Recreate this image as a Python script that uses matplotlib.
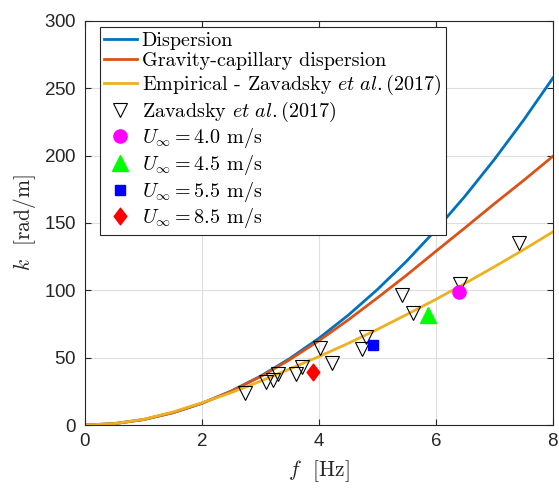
"""k(f) dispersion comparison with Zavadsky et al. (2017) data."""
import numpy as np
import matplotlib
matplotlib.use("Agg")
import matplotlib.pyplot as plt
from matplotlib.path import Path

plt.rcParams["mathtext.fontset"] = "cm"
plt.rcParams["axes.formatter.use_mathtext"] = True

# curves, f step 0.5 Hz
f_curve = [0.0, 0.5, 1.0, 1.5, 2.0, 2.5, 3.0, 3.5, 4.0, 4.5, 5.0, 5.5, 6.0, 6.5, 7.0, 7.5, 8.0]
k_disp = [0.0, 1.0, 4.0, 9.1, 16.1, 25.2, 36.2, 49.3, 64.4, 81.5, 100.6, 121.7, 144.9, 170.0, 197.2, 226.4, 257.6]
k_gc = [0.0, 1.0, 4.0, 9.1, 16.1, 25.0, 35.9, 48.5, 62.6, 78.0, 94.4, 111.3, 129.0, 146.5, 164.3, 181.6, 199.5]
k_emp = [0.0, 1.0, 4.2, 9.6, 16.5, 24.0, 32.5, 41.6, 50.8, 60.6, 71.0, 82.0, 93.3, 105.2, 117.5, 130.2, 143.4]

# Zavadsky et al. (2017) measurements
f_zav = [2.73, 3.09, 3.21, 3.30, 3.60, 3.71, 4.02, 4.23, 4.73, 4.81, 5.42, 5.61, 6.41, 7.42]
k_zav = [24.0, 32.2, 33.4, 37.6, 37.9, 42.8, 56.9, 45.8, 56.2, 65.1, 96.5, 82.9, 104.4, 135.3]

# present runs
f_u40, k_u40 = [6.40], [99.0]
f_u45, k_u45 = [5.87], [81.7]
f_u55, k_u55 = [4.93], [59.4]
f_u85, k_u85 = [3.90], [39.1]

BLUE = (0.0, 0.447, 0.741)
ORANGE = (0.85, 0.325, 0.098)
YELLOW = (0.929, 0.694, 0.125)
AX = (0.15, 0.15, 0.15)

tall_diamond = Path([(0, 1), (0.76, 0), (0, -1), (-0.76, 0), (0, 1)], closed=True)

fig = plt.figure(figsize=(5.59, 4.95), dpi=100)
ax = fig.add_axes([0.152, 0.1414, 0.837, 0.8162])

ax.plot(f_curve, k_disp, color=BLUE, lw=2, label="Dispersion")
ax.plot(f_curve, k_gc, color=ORANGE, lw=2, label="Gravity-capillary dispersion")
ax.plot(f_curve, k_emp, color=YELLOW, lw=2,
        label=r"Empirical - Zavadsky $\mathit{et\ al.}$(2017)")
ax.plot(f_zav, k_zav, ls="none", marker="v", ms=10.5, mfc="none", mec="k", mew=0.8,
        label=r"Zavadsky $\mathit{et\ al.}$(2017)")
ax.plot(f_u40, k_u40, ls="none", marker="o", ms=9.5, color=(1, 0, 1),
        label=r"$U_\infty = 4.0$ m/s")
ax.plot(f_u45, k_u45, ls="none", marker="^", ms=11, color=(0, 1, 0),
        label=r"$U_\infty = 4.5$ m/s")
ax.plot(f_u55, k_u55, ls="none", marker="s", ms=7.5, color=(0, 0, 1),
        label=r"$U_\infty = 5.5$ m/s")
ax.plot(f_u85, k_u85, ls="none", marker=tall_diamond, ms=12, color=(1, 0, 0),
        label=r"$U_\infty = 8.5$ m/s")

ax.set_xlim(0, 8); ax.set_ylim(0, 300)
ax.set_xticks([0, 2, 4, 6, 8]); ax.set_yticks(np.arange(0, 301, 50))
ax.grid(True, color=(0.87, 0.87, 0.87), lw=0.8)
ax.set_axisbelow(True)
ax.tick_params(direction="in", length=4, width=0.8, colors=AX, top=True, right=True,
               labelsize=13.5, pad=6)
for lab in ax.get_xticklabels() + ax.get_yticklabels():
    lab.set_family("Liberation Sans")
for sp in ax.spines.values():
    sp.set_color(AX); sp.set_linewidth(0.8)

ax.set_xlabel(r"$f$  [Hz]", family="cmr10", fontsize=15.5, color=AX, labelpad=6)
ax.set_ylabel(r"$k$  $[\mathrm{rad/m}]$", family="cmr10", fontsize=15.5, color=AX, labelpad=4)

leg = ax.legend(loc="upper left", bbox_to_anchor=(0.032, 0.985), borderaxespad=0,
                prop={"family": "cmr10", "size": 14.5}, handlelength=1.6, handletextpad=0.25,
                labelspacing=0.13, borderpad=0.22, fancybox=False, framealpha=1,
                edgecolor=AX)
leg.get_frame().set_linewidth(0.8)

fig.savefig("out.png", dpi=100)
